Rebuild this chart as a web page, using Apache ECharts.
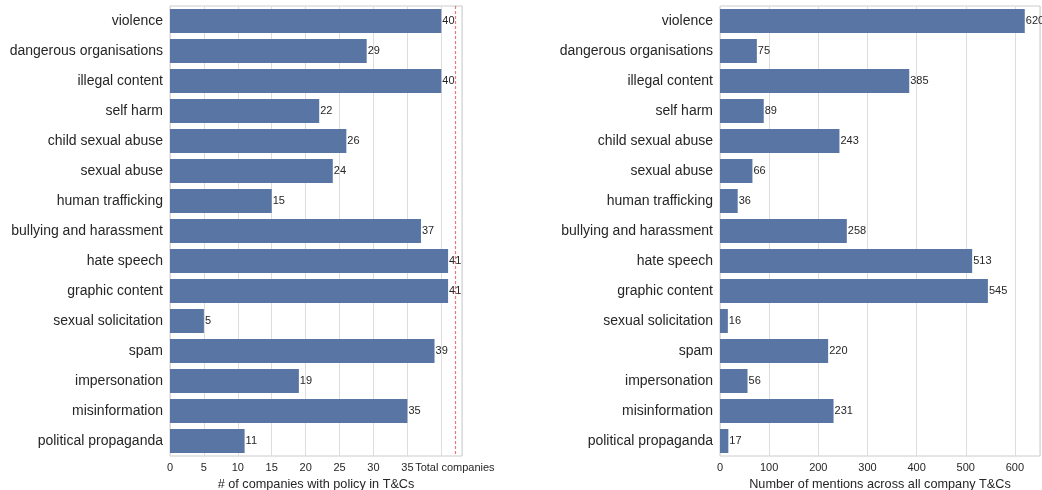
<!DOCTYPE html>
<html><head><meta charset="utf-8">
<script src="https://cdn.jsdelivr.net/npm/echarts@6/dist/echarts.min.js"></script>
<style>html,body{margin:0;padding:0;background:#fff;overflow:hidden}#c{width:1042px;height:490px}</style>
</head><body><div id="c"></div>
<script>
const categories = ["violence","dangerous organisations","illegal content","self harm","child sexual abuse","sexual abuse","human trafficking","bullying and harassment","hate speech","graphic content","sexual solicitation","spam","impersonation","misinformation","political propaganda"];
const companies = [40,29,40,22,26,24,15,37,41,41,5,39,19,35,11];
const mentions = [620,75,385,89,243,66,36,258,513,545,16,220,56,231,17];
const totalCompanies = 42;
const leftTicks = [0,5,10,15,20,25,30,35,42];

const chart = echarts.init(document.getElementById('c'), null, {renderer:'canvas'});
const barColor = '#5975a4';
const txt = '#262626';
const font = 'Liberation Sans, Arial, sans-serif';
function yAx(i){return {type:'category', gridIndex:i, data:categories, inverse:true,
  axisLine:{show:false}, axisTick:{show:false}, splitLine:{show:false},
  axisLabel:{color:txt, fontSize:14, fontFamily:font, margin:7}};}
chart.setOption({
  animation:false,
  textStyle:{fontFamily:font},
  grid:[
    {left:170, top:6, width:292, height:450, show:true, borderColor:'#cccccc', borderWidth:1, containLabel:false, outerBoundsMode:'none'},
    {left:720, top:6, width:320, height:450, show:true, borderColor:'#cccccc', borderWidth:1, containLabel:false, outerBoundsMode:'none'}
  ],
  xAxis:[
    {type:'value', gridIndex:0, min:0, max:43.05, interval:5,
     axisLine:{show:false}, axisTick:{show:false},
     splitLine:{show:true, lineStyle:{color:'#dddddd', width:1}},
     axisLabel:{color:txt, fontSize:11, margin:6, customValues:leftTicks,
       formatter:v=> v===totalCompanies ? 'Total companies' : String(v)},
     name:'# of companies with policy in T&Cs', nameLocation:'middle', nameGap:20,
     nameTextStyle:{color:txt, fontSize:12.7}},
    {type:'value', gridIndex:1, min:0, max:651, interval:100,
     axisLine:{show:false}, axisTick:{show:false},
     splitLine:{show:true, lineStyle:{color:'#dddddd', width:1}},
     axisLabel:{color:txt, fontSize:11, margin:6, showMaxLabel:false},
     name:'Number of mentions across all company T&Cs', nameLocation:'middle', nameGap:20,
     nameTextStyle:{color:txt, fontSize:12.7}}
  ],
  yAxis:[yAx(0), yAx(1)],
  series:[
    {type:'bar', xAxisIndex:0, yAxisIndex:0, data:companies, barCategoryGap:'20%',
     itemStyle:{color:barColor},
     label:{show:true, position:'right', distance:1, color:txt, fontSize:11},
     markLine:{silent:true, symbol:'none', label:{show:false},
       lineStyle:{color:'#dc4040', opacity:0.7, type:[3,2], width:1.2},
       data:[{xAxis:totalCompanies}]}},
    {type:'bar', xAxisIndex:1, yAxisIndex:1, data:mentions, barCategoryGap:'20%',
     itemStyle:{color:barColor},
     label:{show:true, position:'right', distance:1, color:txt, fontSize:11}}
  ]
});
</script></body></html>
